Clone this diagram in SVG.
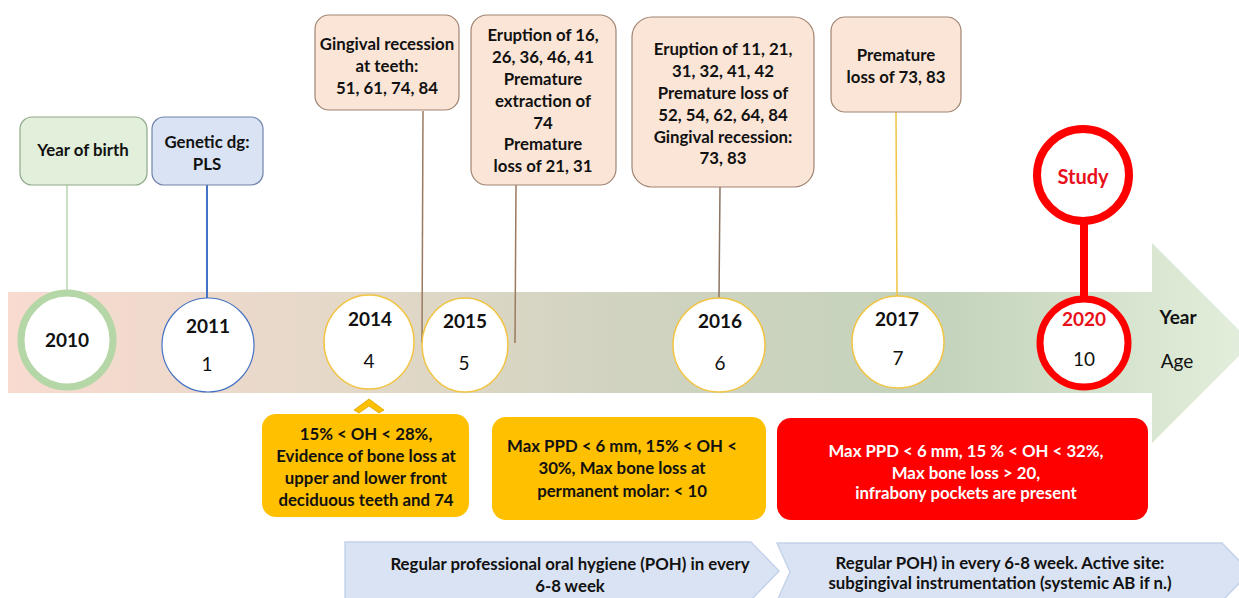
<svg xmlns="http://www.w3.org/2000/svg" width="1239" height="598" viewBox="0 0 1239 598">
<defs>
<linearGradient id="band" x1="8" y1="0" x2="1252" y2="0" gradientUnits="userSpaceOnUse">
<stop offset="0" stop-color="#f9dbd0"/>
<stop offset="0.3" stop-color="#e2d8c7"/>
<stop offset="0.5" stop-color="#d0d3c0"/>
<stop offset="0.75" stop-color="#c4d3bb"/>
<stop offset="1" stop-color="#e3efdc"/>
</linearGradient>
<style>
text{font-family:Lato,"Liberation Sans",sans-serif;font-size:16.8px;text-anchor:middle;dominant-baseline:central;fill:#111}
.b{font-weight:bold}
.y{font-size:19px}
.peach{fill:#fbe5d6;stroke:#a08472;stroke-width:1.2}
.gold{fill:#ffc000}
.yr{fill:#fff;stroke:#f2c443;stroke-width:1.5}
.blue{fill:#dae3f3;stroke:#c4d3ea;stroke-width:1.5}
</style>
</defs>
<rect width="1239" height="598" fill="#fff"/>
<g id="timeline">
<path d="M8,292 H1152 V243 L1252,343 L1152,443 V393 H8 Z" fill="url(#band)"/>
</g>
<g id="connectors" fill="none">
<line x1="67" y1="185" x2="67" y2="293" stroke="#b9d3ad" stroke-width="1.5"/>
<line x1="207" y1="185" x2="207" y2="298" stroke="#4472c4" stroke-width="2"/>
<line x1="423" y1="111" x2="422" y2="343" stroke="#9c7a60" stroke-width="1.5"/>
<line x1="516" y1="185" x2="515" y2="343" stroke="#9c7a60" stroke-width="1.5"/>
<line x1="720" y1="187" x2="719" y2="298" stroke="#8a7564" stroke-width="1.5"/>
<line x1="896" y1="112" x2="897" y2="296" stroke="#f2c443" stroke-width="1.5"/>
<line x1="1084" y1="222" x2="1084" y2="300" stroke="#ff0000" stroke-width="8"/>
</g>
<g id="n-year-of-birth">
<rect x="20" y="117" width="127" height="68" rx="12" fill="#e2efda" stroke="#8fa98a" stroke-width="1.2"/>
<text x="83" y="149" class="b">Year of birth</text>
</g>
<g id="n-genetic">
<rect x="152" y="117" width="111" height="68" rx="12" fill="#dae3f3" stroke="#6f83a8" stroke-width="1.2"/>
<text x="207" y="141" class="b">Genetic dg:</text>
<text x="207" y="163" class="b">PLS</text>
</g>
<g id="n-2014-event">
<rect x="315" y="15" width="144" height="95" rx="14" class="peach"/>
<text x="387" y="43" class="b">Gingival recession</text>
<text x="387" y="65" class="b">at teeth:</text>
<text x="387" y="87" class="b">51, 61, 74, 84</text>
</g>
<g id="n-2015-event">
<rect x="471" y="15" width="145" height="170" rx="16" class="peach"/>
<text x="543" y="34" class="b">Eruption of 16,</text>
<text x="543" y="56" class="b">26, 36, 46, 41</text>
<text x="543" y="78" class="b">Premature</text>
<text x="543" y="100" class="b">extraction of</text>
<text x="543" y="122" class="b">74</text>
<text x="543" y="143" class="b">Premature</text>
<text x="543" y="165" class="b">loss of 21, 31</text>
</g>
<g id="n-2016-event">
<rect x="632" y="17" width="182" height="170" rx="20" class="peach"/>
<text x="723" y="48" class="b">Eruption of 11, 21,</text>
<text x="723" y="70" class="b">31, 32, 41, 42</text>
<text x="723" y="92" class="b">Premature loss of</text>
<text x="723" y="114" class="b">52, 54, 62, 64, 84</text>
<text x="723" y="136" class="b">Gingival recession:</text>
<text x="723" y="157" class="b">73, 83</text>
</g>
<g id="n-2017-event">
<rect x="831" y="17" width="130" height="95" rx="14" class="peach"/>
<text x="896" y="54" class="b">Premature</text>
<text x="896" y="76" class="b">loss of 73, 83</text>
</g>
<g id="n-study">
<circle cx="1083" cy="175" r="46" fill="#fff" stroke="#ff0000" stroke-width="8"/>
<text x="1083" y="176" class="b" style="fill:#e8101a;font-size:20px">Study</text>
</g>
<g id="n-2010">
<ellipse cx="67" cy="340" rx="46" ry="47" fill="#fff" stroke="#b5d6a7" stroke-width="7"/>
<text x="67" y="339" class="b y">2010</text>
</g>
<g id="n-2011">
<ellipse cx="208" cy="345" rx="46" ry="47" fill="#fff" stroke="#4472c4" stroke-width="1.2"/>
<text x="208" y="325" class="b y">2011</text>
<text x="207" y="363" class="y">1</text>
</g>
<g id="n-2014">
<ellipse cx="369" cy="342" rx="45" ry="47" class="yr"/>
<text x="370" y="318" class="b y">2014</text>
<text x="369" y="360" class="y">4</text>
</g>
<g id="n-2015">
<ellipse cx="465" cy="345" rx="43" ry="47" class="yr"/>
<text x="465" y="320" class="b y">2015</text>
<text x="464" y="362" class="y">5</text>
</g>
<g id="n-2016">
<ellipse cx="719" cy="345" rx="46" ry="47" class="yr"/>
<text x="720" y="320" class="b y">2016</text>
<text x="720" y="362" class="y">6</text>
</g>
<g id="n-2017">
<ellipse cx="898" cy="342" rx="46" ry="46" class="yr"/>
<text x="897" y="318" class="b y">2017</text>
<text x="898" y="357" class="y">7</text>
</g>
<g id="n-2020">
<ellipse cx="1084" cy="343" rx="44" ry="44" fill="#fff" stroke="#ff0000" stroke-width="7"/>
<text x="1084" y="318" class="b y" style="fill:#e8101a">2020</text>
<text x="1084" y="358" class="y">10</text>
</g>
<g id="n-axis-labels">
<text x="1178" y="316" class="b y">Year</text>
<text x="1177" y="360" class="y">Age</text>
</g>
<g id="n-chevron">
<path d="M354,410 L369,399 L384,410 L379,413 L369,406 L359,413 Z" fill="#ffc000" stroke="#d9a400" stroke-width="0.8"/>
</g>
<g id="n-stage1">
<rect x="262" y="414" width="207" height="103" rx="14" class="gold"/>
<text x="366" y="433" class="b">15% &lt; OH &lt; 28%,</text>
<text x="366" y="455" class="b">Evidence of bone loss at</text>
<text x="366" y="477" class="b">upper and lower front</text>
<text x="366" y="499" class="b">deciduous teeth and 74</text>
</g>
<g id="n-stage2">
<rect x="492" y="417" width="274" height="103" rx="14" class="gold"/>
<text x="622" y="445" class="b">Max PPD &lt; 6 mm, 15% &lt; OH &lt;</text>
<text x="622" y="467" class="b">30%, Max bone loss at</text>
<text x="622" y="490" class="b">permanent molar: &lt; 10</text>
</g>
<g id="n-stage3">
<rect x="777" y="418" width="371" height="102" rx="14" fill="#ff0000"/>
<text x="966" y="450" class="b" style="fill:#fff">Max PPD &lt; 6 mm, 15 % &lt; OH &lt; 32%,</text>
<text x="966" y="472" class="b" style="fill:#fff">Max bone loss &gt; 20,</text>
<text x="966" y="492" class="b" style="fill:#fff">infrabony pockets are present</text>
</g>
<g id="n-poh1">
<path d="M345,542 H751 L779,571 L751,600 H345 Z" class="blue"/>
<text x="570" y="563" class="b">Regular professional oral hygiene (POH) in every</text>
<text x="570" y="585" class="b">6-8 week</text>
</g>
<g id="n-poh2">
<path d="M777,543 H1222 L1250,572 L1222,601 H777 L790,572 Z" class="blue"/>
<text x="1000" y="562" class="b">Regular POH) in every 6-8 week. Active site:</text>
<text x="1000" y="582" class="b">subgingival instrumentation (systemic AB if n.)</text>
</g>
</svg>
